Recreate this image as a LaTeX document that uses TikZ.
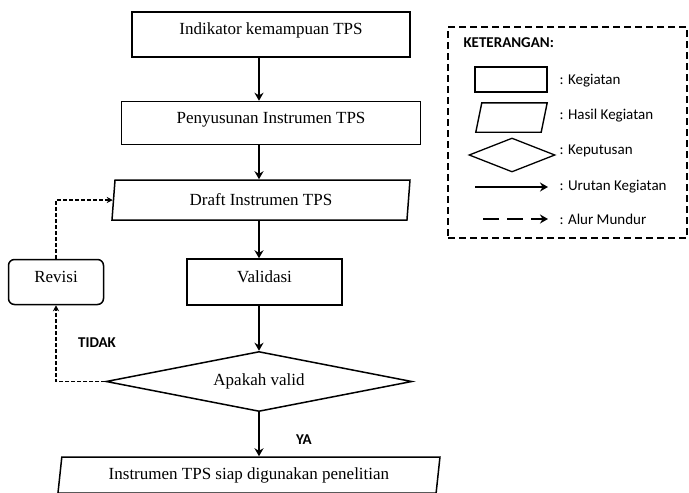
\documentclass[tikz,border=0pt]{standalone}
\usepackage{fontspec}
\setmainfont{Liberation Serif}
\newfontfamily\calibri{Carlito}
\usetikzlibrary{arrows.meta, positioning, shapes.geometric}

\begin{document}
\begin{tikzpicture}[
    x=1pt, y=-1pt,
    node distance=43pt and 82pt,
    box/.style={draw, line width=1.5pt, inner sep=0pt, align=center, font=\fontsize{17}{20}\selectfont, text height=12pt, text depth=12pt},
    hasil/.style={draw, line width=1.5pt, trapezium, trapezium left angle=76, trapezium right angle=104, trapezium stretches body, inner sep=0pt, font=\fontsize{17}{20}\selectfont},
    putusan/.style={draw, line width=1.5pt, diamond, aspect=5, inner sep=0pt, font=\fontsize{17}{20}\selectfont},
    arrow/.style={-{Stealth[length=8pt, width=9pt]}, line width=1.8pt},
    balik/.style={-{Stealth[length=6pt, width=6pt]}, line width=1.2pt, dash pattern=on 4pt off 2pt},
    lbl/.style={font=\calibri\bfseries\fontsize{15}{18}\selectfont},
    ket/.style={anchor=west, font=\calibri\fontsize{15}{18}\selectfont}
]
    \useasboundingbox (0,0) rectangle (689,493);

    % alur utama
    \node[box, minimum width=278, minimum height=45] (indikator) at (271,34.5) {Indikator kemampuan TPS};
    \node[box, minimum width=299, minimum height=43, below=43pt of indikator] (susun) {Penyusunan Instrumen TPS};
    \node[hasil, minimum width=298, minimum height=40, below=34pt of susun, xshift=-10pt] (draft) {Draft Instrumen TPS};
    \node[box, minimum width=155, minimum height=46] (valid) at (264.5,282) {Validasi};
    \node[box, rounded corners=6pt, minimum width=95, minimum height=45, left=82pt of valid] (revisi) {Revisi};
    \node[putusan, minimum width=306, minimum height=60, below=45pt of valid, xshift=-5.5pt] (cek) {Apakah valid};
    \node[hasil, minimum width=382, minimum height=36, below=44pt of cek, xshift=-10pt] (siap) {Instrumen TPS siap digunakan penelitian};

    \draw[arrow] (indikator.south -| cek.north) -- (susun.north -| cek.north);
    \draw[arrow] (susun.south -| cek.north) -- (draft.north -| cek.north);
    \draw[arrow] (draft.south -| cek.north) -- (valid.north -| cek.north);
    \draw[arrow] (valid.south -| cek.north) -- (cek.north);
    \draw[arrow] (cek.south) -- (siap.north -| cek.south);
    \draw[balik] (cek.west) -| (revisi.south);
    \draw[balik] (revisi.north) |- (draft.west);

    \node[lbl] (tidak) at (97,343) {TIDAK};
    \node[lbl] (ya) at (304,440) {YA};

    % keterangan
    \node[draw, line width=1.4pt, dash pattern=on 7pt off 4pt, minimum width=239, minimum height=211] (ketbox) at (567.5,132.5) {};
    \node[lbl, anchor=west] (judul) at (460,43) {KETERANGAN:};
    \node[draw, line width=1.4pt, inner sep=0pt, minimum width=72, minimum height=25] (kgt) at (511,79.5) {};
    \node[inner sep=0pt, minimum width=71, minimum height=29] (hsl) at (511.5,117.5) {};
    \draw[line width=1.4pt] ([xshift=6pt]hsl.north west) -- (hsl.north east) -- ([xshift=-6pt]hsl.south east) -- (hsl.south west) -- cycle;
    \node[draw, line width=1.3pt, diamond, inner sep=0pt, minimum width=86, minimum height=34] (kpt) at (512,155) {};
    \coordinate (u1) at (475,187);
    \coordinate (u2) at (548,187);
    \coordinate (m1) at (483,219);
    \coordinate (m2) at (548,219);
    \draw[arrow] (u1) -- (u2);
    \draw[arrow, dash pattern=on 16pt off 8pt] (m1) -- (m2);

    \node[ket] at (556,81) {: Kegiatan};
    \node[ket] at (556,116) {: Hasil Kegiatan};
    \node[ket] at (556,151) {: Keputusan};
    \node[ket] at (556,187) {: Urutan Kegiatan};
    \node[ket] at (556,219) {: Alur Mundur};
\end{tikzpicture}
\end{document}
